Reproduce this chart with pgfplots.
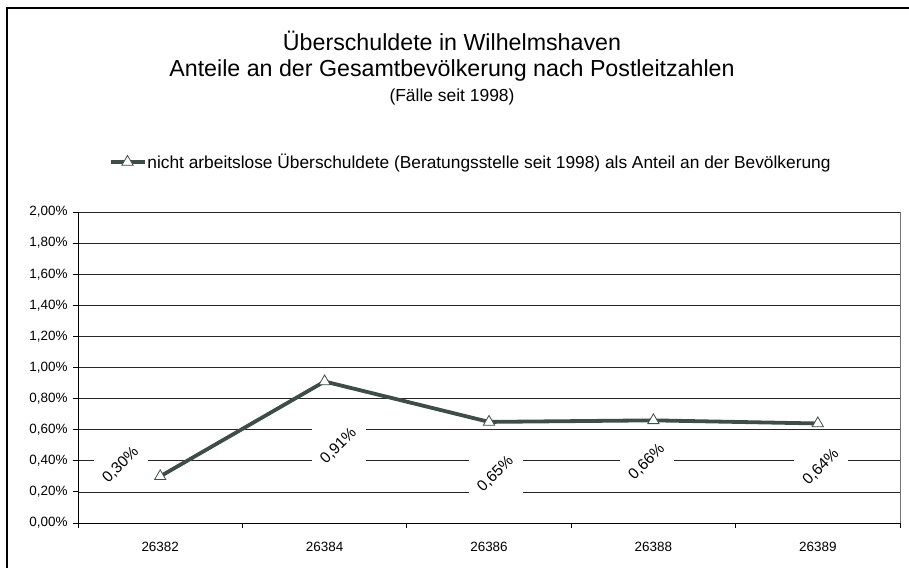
\documentclass[border=0pt]{standalone}
\usepackage{fontspec}
\setmainfont{Liberation Sans}
\usepackage{pgfplots}
\pgfplotsset{compat=1.18}
\definecolor{linec}{RGB}{62,78,70}
\begin{document}
\begin{tikzpicture}[x=1bp,y=1bp]
\path[use as bounding box] (0,0) rectangle (909,568);
\draw[line width=2bp] (7,-10) -- (7,560) -- (920,560);
\node[anchor=base,font=\fontsize{23.3}{27}\selectfont] at (452,517) {Überschuldete in Wilhelmshaven};
\node[anchor=base,font=\fontsize{23.3}{27}\selectfont] at (452,491) {Anteile an der Gesamtbevölkerung nach Postleitzahlen};
\node[anchor=base,font=\fontsize{17.5}{20}\selectfont] at (452,466) {(Fälle seit 1998)};
\begin{axis}[
  at={(78bp,45bp)}, anchor=south west,
  scale only axis, width=822bp, height=311bp,
  xmin=-0.5, xmax=4.5, ymin=0, ymax=2,
  axis x line*=bottom, axis y line*=left,
  axis line style={black, line width=0.8bp, -},
  xtick={0,1,2,3,4},
  xticklabels={26382,26384,26386,26388,26389},
  major x tick style={draw=none},
  minor xtick={-0.5,0.5,1.5,2.5,3.5,4.5},
  minor tick length=5bp,
  minor x tick style={black, line width=0.8bp},
  ytick={0,0.2,...,2.01},
  major tick length=5bp,
  y tick style={black, line width=0.8bp},
  tick align=outside,
  ymajorgrids,
  major grid style={black!85, line width=0.7bp},
  /pgf/number format/assume math mode=true,
  yticklabel={\pgfmathprintnumber[fixed,fixed zerofill,precision=2,use comma]{\tick}\%},
  ticklabel style={font=\fontsize{13.5}{16}\selectfont},
  yticklabel style={xshift=-2bp},
  xticklabel style={yshift=-11bp},
  legend style={at={(0.477,1.161)}, anchor=center, draw=none, fill=none,
    font=\fontsize{17.4}{20}\selectfont, inner sep=0pt,
    nodes={inner xsep=1bp},
    legend cell align=left},
  legend image code/.code={\draw[mark repeat=2,mark phase=2,#1] plot coordinates {(0bp,0bp) (17bp,0bp) (34bp,0bp)};},
  clip=false,
  after end axis/.code={\draw[black!55, line width=0.8bp] (rel axis cs:1,0) -- (rel axis cs:1,1);},
]
\addplot[color=linec, line width=3.8bp, mark=triangle*,
  mark size=6.5bp, mark options={fill=white, draw=linec, line width=0.8bp}]
  coordinates {(0,0.30) (1,0.91) (2,0.65) (3,0.66) (4,0.64)};
\addlegendentry{nicht arbeitslose Überschuldete (Beratungsstelle seit 1998) als Anteil an der Bevölkerung}
\tikzset{dl/.style={fill=white, inner xsep=7bp, inner ysep=3bp, font=\fontsize{15.5}{18}\selectfont}}
\node[dl] at (axis cs:-0.24,0.373) {\rotatebox{45}{0,30\%}};
\node[dl] at (axis cs:1.085,0.495) {\rotatebox{45}{0,91\%}};
\node[dl] at (axis cs:2.04,0.315) {\rotatebox{45}{0,65\%}};
\node[dl] at (axis cs:2.96,0.392) {\rotatebox{45}{0,66\%}};
\node[dl] at (axis cs:4.02,0.36) {\rotatebox{45}{0,64\%}};
\end{axis}
\end{tikzpicture}
\end{document}
